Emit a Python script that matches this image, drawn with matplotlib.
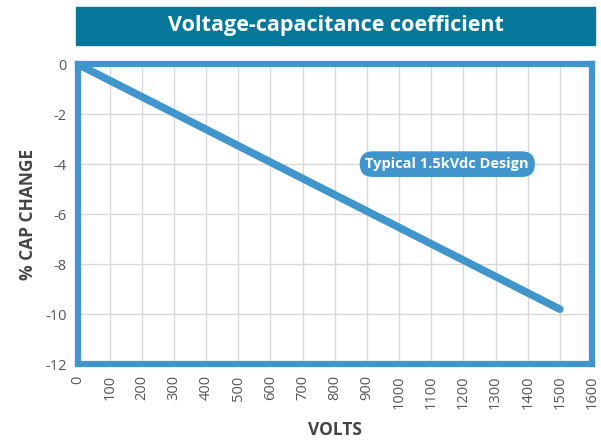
import matplotlib
matplotlib.use("Agg")
import matplotlib.pyplot as plt
from matplotlib.patches import Rectangle

# Voltage vs. capacitance change for a typical 1.5 kVdc design
volts = [0, 1500]
cap_change = [0, -9.8]

x_ticks = list(range(0, 1601, 100))
y_ticks = [0, -2, -4, -6, -8, -10, -12]

title = "Voltage-capacitance coefficient"
annotation = "Typical 1.5kVdc Design"

BLUE = "#4096cc"
TEAL = "#06769a"
GRID = "#d9d9d9"
TEXT = "#555555"

plt.rcParams["font.family"] = ["Open Sans", "DejaVu Sans"]

fig = plt.figure(figsize=(6.01, 4.42), dpi=100)
ax = fig.add_axes([0.129, 0.176, 0.856, 0.679])

ax.plot(volts, cap_change, color=BLUE, lw=5.5, solid_capstyle="round", zorder=3)

ax.set_xlim(0, 1600)
ax.set_ylim(-12, 0)
ax.set_xticks(x_ticks)
ax.set_yticks(y_ticks)
ax.set_xticklabels([str(v) for v in x_ticks], rotation=90)
ax.set_yticklabels([str(v) for v in y_ticks])
ax.tick_params(length=0, labelsize=10.5, labelcolor=TEXT, pad=8)
ax.grid(True, color=GRID, lw=1)
ax.set_axisbelow(True)
for s in ax.spines.values():
    s.set_color(BLUE)
    s.set_linewidth(4.5)
    s.set_zorder(4)

ax.set_xlabel("VOLTS", fontsize=12.5, fontweight="bold", color="#444444", labelpad=9)
ax.set_ylabel("% CAP CHANGE", fontsize=12.5, fontweight="bold", color="#444444", labelpad=6)

ax.text(1150, -4.0, annotation, ha="center", va="center", fontsize=10.5,
        fontweight="bold", color="white", zorder=5,
        bbox=dict(boxstyle="round,pad=0.4,rounding_size=0.9", fc=BLUE, ec="none"))

# Title banner
fig.patches.append(Rectangle((76 / 601, 1 - 45 / 442), (595 - 76) / 601, 38 / 442,
                             transform=fig.transFigure, color=TEAL, zorder=0))
fig.text((76 + 595) / 2 / 601, 1 - 26 / 442, title, ha="center", va="center",
         fontsize=15.5, fontweight="bold", color="white")

fig.savefig("out.png", dpi=100)
